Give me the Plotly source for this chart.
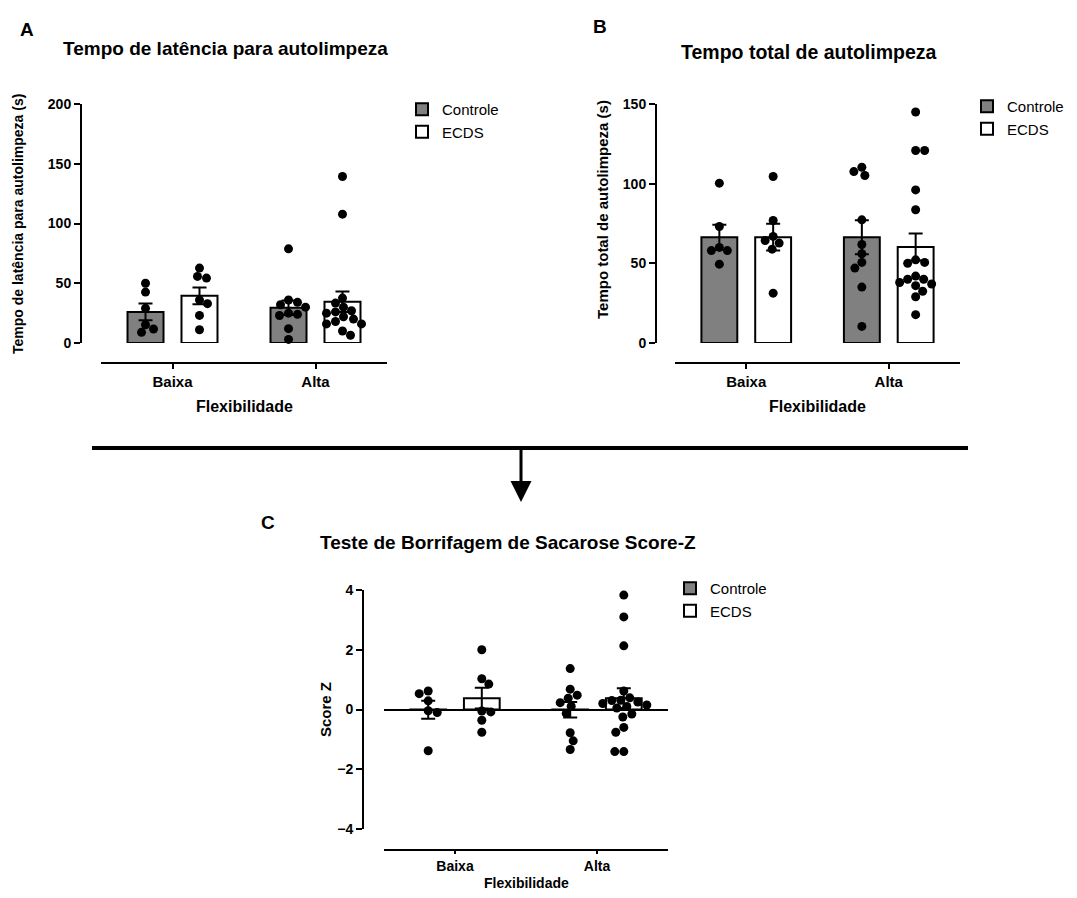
import plotly.graph_objects as go

# ---------------- data ----------------
categories = ["Baixa", "Alta"]
groups = ["Controle", "ECDS"]

# Panel A: Tempo de latência para autolimpeza (s)
A_mean_ctrl = [26.0, 29.5]
A_sem_ctrl = [7.0, 6.0]
A_mean_ecds = [39.5, 34.5]
A_sem_ecds = [7.0, 8.5]
A_pts_ctrl_baixa = [50, 42.6, 29, 15.3, 11.7, 8.9]
A_pts_ecds_baixa = [62.7, 55.7, 54.3, 36, 32.9, 23.1, 11.1]
A_pts_ctrl_alta = [78.8, 36, 34, 32, 30, 25, 24, 23, 12, 3]
A_pts_ecds_alta = [139.3, 107.8, 37.6, 33.4, 30, 27, 26, 25, 22, 20, 18, 16, 16, 10, 6.5]

# Panel B: Tempo total de autolimpeza (s)
B_mean_ctrl = [66.4, 66.4]
B_sem_ctrl = [7.8, 10.7]
B_mean_ecds = [66.4, 60.2]
B_sem_ecds = [8.4, 8.5]
B_pts_ctrl_baixa = [100.3, 73.1, 60, 58, 58, 49.5]
B_pts_ecds_baixa = [104.5, 76.9, 66.9, 64.3, 62.7, 58.9, 31.3]
B_pts_ctrl_alta = [110.3, 107.6, 105.1, 77.3, 61.8, 56, 50.6, 47, 35.1, 10.4]
B_pts_ecds_alta = [145, 120.8, 120.8, 96.1, 83.6, 52.2, 50.6, 50, 42, 40, 40, 38, 37, 36, 32.5, 29, 17.8]

# Panel C: Score Z
C_mean_ctrl = [-0.01, -0.01]
C_sem_ctrl = [0.30, 0.26]
C_mean_ecds = [0.38, 0.38]
C_sem_ecds = [0.35, 0.33]
C_pts_ctrl_baixa = [0.62, 0.53, 0.29, -0.04, -0.1, -1.38]
C_pts_ecds_baixa = [2.0, 1.03, 0.85, -0.05, -0.08, -0.36, -0.76]
C_pts_ctrl_alta = [1.37, 0.68, 0.48, 0.38, 0.23, 0.11, -0.13, -0.78, -1.05, -1.34]
C_pts_ecds_alta = [3.83, 3.1, 2.13, 0.62, 0.39, 0.31, 0.3, 0.25, 0.2, 0.15, 0.1, 0.05,
                   -0.15, -0.25, -0.6, -0.76, -1.41, -1.41]

# ---------------- layout helpers ----------------
PAGE_W, PAGE_H = 1077, 898
PAD = 8  # default page body margin
W, H = PAGE_W - 2 * PAD, PAGE_H - 2 * PAD
FONT = "Arial, 'Liberation Sans', sans-serif"
GRAY = "#808080"
BARGAP = 0.245
BARGROUPGAP = 0.333
GROUP_OFF = (1 - BARGAP) / 4.0
MARKER_D = 9


def fx(x):
    return (x - PAD) / W


def fy(y):
    return 1 - (y - PAD) / H


def swarm(vals, ypx_per_unit, d):
    placed = []
    offs = [0] * len(vals)
    order = sorted(range(len(vals)), key=lambda i: -vals[i])
    for n, i in enumerate(order):
        yp = vals[i] * ypx_per_unit
        chosen = None
        for k in range(0, 80):
            cands = [0] if k == 0 else ([-k, k] if n % 2 else [k, -k])
            for c in cands:
                if all((c - px) ** 2 + (yp - py) ** 2 >= (d * 0.95) ** 2 for px, py in placed):
                    chosen = c
                    break
            if chosen is not None:
                break
        placed.append((chosen, yp))
        offs[i] = chosen
    return offs


panels = [
    dict(ax="", xdom=(101, 387), ydom=(104, 343), yline=81, xline=363, yrange=[0, 200], dtick=50,
         means=(A_mean_ctrl, A_mean_ecds), sems=(A_sem_ctrl, A_sem_ecds),
         pts=((A_pts_ctrl_baixa, A_pts_ctrl_alta), (A_pts_ecds_baixa, A_pts_ecds_alta)),
         legend="legend", zero=False, xtick_size=15, xtick_len=5),
    dict(ax="2", xdom=(675, 960), ydom=(104, 343), yline=656, xline=363, yrange=[0, 150], dtick=50,
         means=(B_mean_ctrl, B_mean_ecds), sems=(B_sem_ctrl, B_sem_ecds),
         pts=((B_pts_ctrl_baixa, B_pts_ctrl_alta), (B_pts_ecds_baixa, B_pts_ecds_alta)),
         legend="legend2", zero=False, xtick_size=15, xtick_len=5),
    dict(ax="3", xdom=(384, 668), ydom=(590, 829), yline=363, xline=850, yrange=[-4, 4], dtick=2,
         means=(C_mean_ctrl, C_mean_ecds), sems=(C_sem_ctrl, C_sem_ecds),
         pts=((C_pts_ctrl_baixa, C_pts_ctrl_alta), (C_pts_ecds_baixa, C_pts_ecds_alta)),
         legend="legend3", zero=True, xtick_size=14, xtick_len=3),
]

fig = go.Figure()
layout_axes = {}
cat_x = list(range(len(categories)))
xrange = [-0.5, 1.5]

for p in panels:
    xa, ya = "x" + p["ax"], "y" + p["ax"]
    xpx_per_unit = (p["xdom"][1] - p["xdom"][0]) / (xrange[1] - xrange[0])
    ypx_per_unit = (p["ydom"][1] - p["ydom"][0]) / (p["yrange"][1] - p["yrange"][0])
    fills = [GRAY, "white"]
    # bars
    for g, name in enumerate(groups):
        fig.add_trace(go.Bar(
            x=cat_x, y=p["means"][g], name=name, xaxis=xa, yaxis=ya,
            marker=dict(color=fills[g], line=dict(color="black", width=2)),
            error_y=dict(type="data", array=p["sems"][g], color="black", thickness=2, width=7),
            legend=p["legend"], showlegend=True, offsetgroup=str(g),
        ))
    # points
    for g in range(len(groups)):
        sign = -1 if g == 0 else 1
        xs, ys = [], []
        for ci, vals in enumerate(p["pts"][g]):
            offs = swarm(vals, ypx_per_unit, MARKER_D)
            for v, o in zip(vals, offs):
                xs.append(ci + sign * GROUP_OFF + o / xpx_per_unit)
                ys.append(v)
        fig.add_trace(go.Scatter(
            x=xs, y=ys, mode="markers", xaxis=xa, yaxis=ya, showlegend=False,
            marker=dict(color="black", size=MARKER_D), cliponaxis=False, hoverinfo="y",
        ))

    xkey = "xaxis" + p["ax"]
    ykey = "yaxis" + p["ax"]
    layout_axes[xkey] = dict(
        domain=[fx(p["xdom"][0]), fx(p["xdom"][1])], range=xrange,
        anchor="free", position=fy(p["xline"]),
        tickmode="array", tickvals=cat_x, ticktext=categories,
        showline=True, linecolor="black", linewidth=2,
        ticks="outside", ticklen=p["xtick_len"], tickwidth=2, tickcolor="black",
        tickfont=dict(family=FONT, size=p["xtick_size"], color="black", weight="bold"),
        showgrid=False, zeroline=False, fixedrange=True, automargin=False,
    )
    layout_axes[ykey] = dict(
        domain=[fy(p["ydom"][1]), fy(p["ydom"][0])], range=p["yrange"],
        anchor="free", position=fx(p["yline"]),
        tickmode="linear", tick0=p["yrange"][0], dtick=p["dtick"],
        showline=True, linecolor="black", linewidth=2,
        ticks="outside", ticklen=6, tickwidth=2, tickcolor="black",
        tickfont=dict(family=FONT, size=14, color="black", weight="bold"),
        showgrid=False, zeroline=p["zero"], zerolinecolor="black", zerolinewidth=2,
        fixedrange=True, automargin=False,
    )

leg_common = dict(xanchor="left", yanchor="top", bgcolor="rgba(0,0,0,0)",
                  font=dict(family=FONT, size=15, color="black"), tracegroupgap=0,
                  itemclick=False, itemdoubleclick=False)

annotations = []


def txt(x, y, text, size, angle=0, bold=True, xanchor="center"):
    annotations.append(dict(
        x=fx(x), y=fy(y), xref="paper", yref="paper", text=("<b>%s</b>" % text) if bold else text,
        showarrow=False, textangle=angle, xanchor=xanchor, yanchor="middle",
        font=dict(family=FONT, size=size, color="black"),
    ))


# panel letters and titles
txt(27, 30, "A", 19)
txt(225, 48, "Tempo de latência para autolimpeza", 19)
txt(600, 27, "B", 19)
txt(808, 52, "Tempo total de autolimpeza", 19.5)
txt(268, 522, "C", 19)
txt(508, 542, "Teste de Borrifagem de Sacarose Score-Z", 19)
# axis titles
txt(18, 224, "Tempo de latência para autolimpeza (s)", 14, angle=-90)
txt(602, 210, "Tempo total de autolimpeza (s)", 15, angle=-90)
txt(325, 710, "Score Z", 15, angle=-90)
txt(244, 407, "Flexibilidade", 16)
txt(817, 407, "Flexibilidade", 16)
txt(526, 883, "Flexibilidade", 14)

# connector arrow
annotations.append(dict(
    x=fx(521), y=fy(502), xref="paper", yref="paper",
    axref="pixel", ayref="pixel", ax=0, ay=-54, text="", showarrow=True,
    arrowhead=2, arrowsize=1.4, arrowwidth=3, arrowcolor="black",
))

fig.update_layout(
    width=W, height=H, autosize=False,
    margin=dict(l=0, r=0, t=0, b=0, pad=0, autoexpand=False),
    paper_bgcolor="white", plot_bgcolor="rgba(0,0,0,0)",
    barmode="group", bargap=BARGAP, bargroupgap=BARGROUPGAP,
    font=dict(family=FONT, color="black"),
    legend=dict(x=fx(402), y=fy(93), **leg_common),
    legend2=dict(x=fx(967), y=fy(90), **leg_common),
    legend3=dict(x=fx(670), y=fy(572), **leg_common),
    annotations=annotations,
    shapes=[dict(type="line", xref="paper", yref="paper",
                 x0=fx(92), x1=fx(968), y0=fy(448), y1=fy(448),
                 line=dict(color="black", width=4))],
    **layout_axes,
)

fig.write_html("out.html")
